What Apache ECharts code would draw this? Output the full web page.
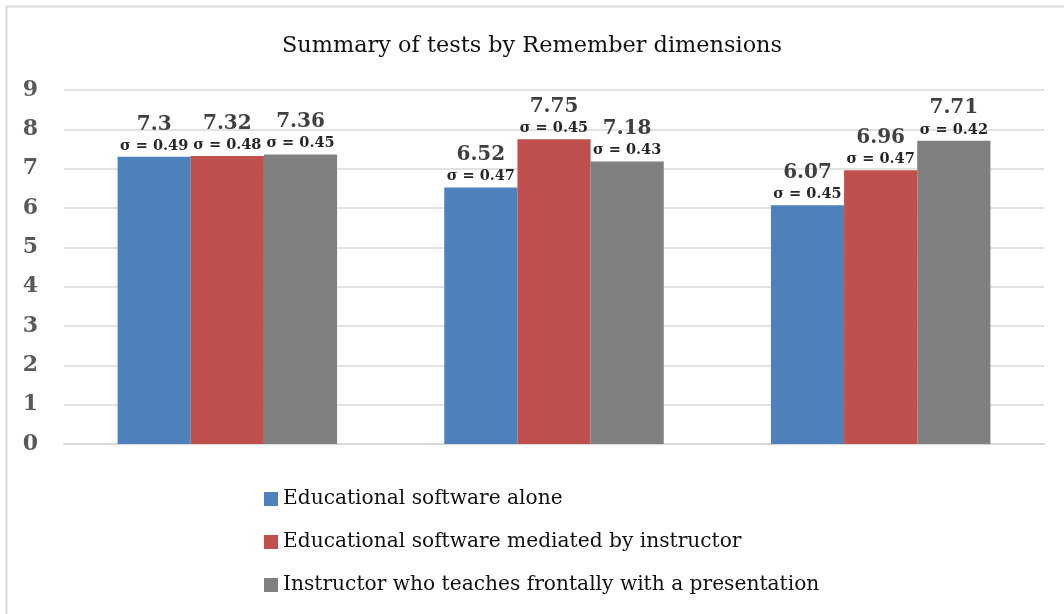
<!DOCTYPE html>
<html>
<head>
<meta charset="utf-8">
<title>Summary of tests by Remember dimensions</title>
<script src="https://cdn.jsdelivr.net/npm/echarts@6/dist/echarts.min.js"></script>
<style>
    html, body { margin: 0; padding: 0; background: #fff; }
    #chart { width: 1064px; height: 614px; }
</style>
</head>
<body>
<div id="chart"></div>
<script>
// data
const categories = ['Group 1', 'Group 2', 'Group 3'];
const seriesNames = [
    'Educational software alone',
    'Educational software mediated by instructor',
    'Instructor who teaches frontally with a presentation'
];
const softwareAlone = [7.3, 6.52, 6.07];
const softwareMediated = [7.32, 7.75, 6.96];
const instructorFrontal = [7.36, 7.18, 7.71];
const sigmaAlone = ['0.49', '0.47', '0.45'];
const sigmaMediated = ['0.48', '0.45', '0.47'];
const sigmaFrontal = ['0.45', '0.43', '0.42'];
const colors = ['#4f81bd', '#c0504d', '#808080'];

const serif = '"DejaVu Serif", serif';

const chart = echarts.init(document.getElementById('chart'));

function makeSeries(name, values, sigmas, color) {
    return {
        name: name,
        type: 'bar',
        data: values,
        barWidth: '22.4%',
        barGap: '0%',
        itemStyle: { color: color },
        label: {
            show: true,
            position: 'top',
            distance: 2,
            formatter: function (p) {
                return '{v|' + p.value + '}\n{s|σ = ' + sigmas[p.dataIndex] + '}';
            },
            rich: {
                v: { fontFamily: serif, fontSize: 20, fontWeight: 'bold', color: '#404040', lineHeight: 25 },
                s: { fontFamily: serif, fontSize: 14.5, fontWeight: 'bold', color: '#262626', lineHeight: 18 }
            }
        }
    };
}

chart.setOption({
    animation: false,
    title: {
        text: 'Summary of tests by Remember dimensions',
        left: 'center',
        top: 30,
        textStyle: { fontFamily: serif, fontSize: 22.4, fontWeight: 'normal', color: '#111' }
    },
    graphic: [{
        type: 'rect',
        shape: { x: 6.5, y: 6.5, width: 1100, height: 700 },
        style: { fill: 'none', stroke: '#d9d9d9', lineWidth: 2 },
        silent: true
    }],
    legend: {
        orient: 'vertical',
        left: 259,
        top: 484,
        itemGap: 23,
        itemWidth: 14,
        itemHeight: 14,
        icon: 'rect',
        textStyle: { fontFamily: serif, fontSize: 20.2, color: '#111' },
        data: seriesNames
    },
    grid: { left: 64, right: 20, top: 90, bottom: 170, containLabel: false },
    xAxis: {
        type: 'category',
        data: categories,
        axisLine: { show: true, lineStyle: { color: '#d9d9d9', width: 2 } },
        axisTick: { show: false },
        axisLabel: { show: false }
    },
    yAxis: {
        type: 'value',
        min: 0,
        max: 9,
        interval: 1,
        axisLine: { show: false },
        axisTick: { show: false },
        splitLine: { lineStyle: { color: '#d9d9d9', width: 1.5 } },
        axisLabel: { fontFamily: serif, fontSize: 22, fontWeight: 'bold', color: '#595959', margin: 26 }
    },
    series: [
        makeSeries(seriesNames[0], softwareAlone, sigmaAlone, colors[0]),
        makeSeries(seriesNames[1], softwareMediated, sigmaMediated, colors[1]),
        makeSeries(seriesNames[2], instructorFrontal, sigmaFrontal, colors[2])
    ]
});
</script>
</body>
</html>
